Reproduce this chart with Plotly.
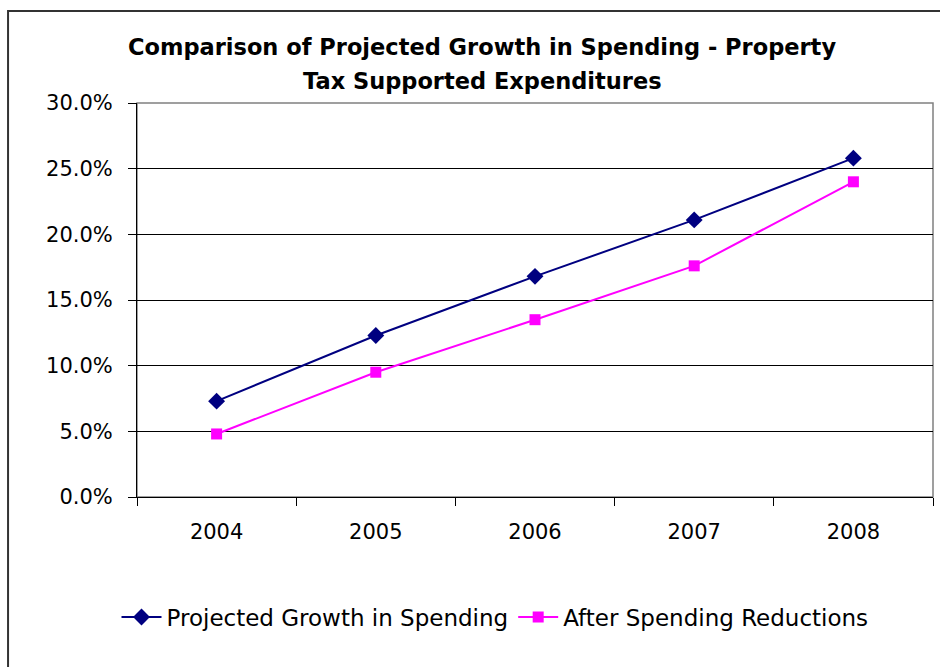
import plotly.graph_objects as go

# Fiscal years and cumulative growth (fractions)
years = ["2004", "2005", "2006", "2007", "2008"]
projected_growth = [0.073, 0.123, 0.168, 0.211, 0.258]
after_reductions = [0.048, 0.095, 0.135, 0.176, 0.240]

y_ticks = [0.0, 0.05, 0.10, 0.15, 0.20, 0.25, 0.30]

title_lines = ["Comparison of Projected Growth in Spending - Property",
               "Tax Supported Expenditures"]

FONT = "DejaVu Sans"

fig = go.Figure()

fig.add_trace(go.Scatter(
    x=years, y=projected_growth, mode="lines+markers",
    name="Projected Growth in Spending",
    line=dict(color="#000080", width=2),
    marker=dict(symbol="diamond", size=13, color="#000080"),
))
fig.add_trace(go.Scatter(
    x=years, y=after_reductions, mode="lines+markers",
    name="After Spending Reductions",
    line=dict(color="#FF00FF", width=2),
    marker=dict(symbol="square", size=11, color="#FF00FF"),
))

# Plot-area frame (grey) beneath the black gridlines
fig.add_shape(type="rect", xref="paper", yref="paper",
              x0=0, x1=1, y0=0, y1=1, layer="below",
              line=dict(color="#808080", width=1.5))
# Outer chart border
fig.add_shape(type="rect", xref="paper", yref="paper",
              x0=-0.162, x1=1.1, y0=-0.6, y1=1.2335, layer="below",
              line=dict(color="#333333", width=2))

# Two-line chart title
for line_text, ypix in zip(title_lines, [47, 81]):
    fig.add_annotation(
        text=f"<b>{line_text}</b>", showarrow=False,
        xref="paper", yref="paper",
        x=(482 - 137) / 796, xanchor="center",
        y=(497 - ypix) / 394, yanchor="middle",
        font=dict(family=FONT, size=22.5, color="black"),
    )

fig.update_layout(
    width=940, height=667,
    margin=dict(l=137, r=7, t=103, b=170),
    paper_bgcolor="white", plot_bgcolor="white",
    font=dict(family=FONT, color="black"),
    showlegend=True,
    legend=dict(
        orientation="h", x=495 / 940, xref="container", xanchor="center",
        y=1 - 617 / 667, yref="container", yanchor="middle",
        font=dict(family=FONT, size=23, color="black"),
        bgcolor="rgba(0,0,0,0)", itemwidth=40,
    ),
)

fig.update_xaxes(
    type="category", tickson="boundaries", range=[-0.5, 4.5],
    ticks="outside", ticklen=8, tickcolor="black", tickwidth=1,
    showline=True, linecolor="black", linewidth=1,
    showgrid=False, tickfont=dict(family=FONT, size=21),
    ticklabelstandoff=16,
)
fig.update_yaxes(
    range=[0, 0.30], tickvals=y_ticks, tickformat=".1%",
    ticks="outside", ticklen=8, tickcolor="black", tickwidth=1,
    showline=True, linecolor="black", linewidth=1,
    showgrid=True, gridcolor="black", gridwidth=1,
    zeroline=False, tickfont=dict(family=FONT, size=21),
    ticklabelstandoff=11,
)

fig.write_html("out.html")
